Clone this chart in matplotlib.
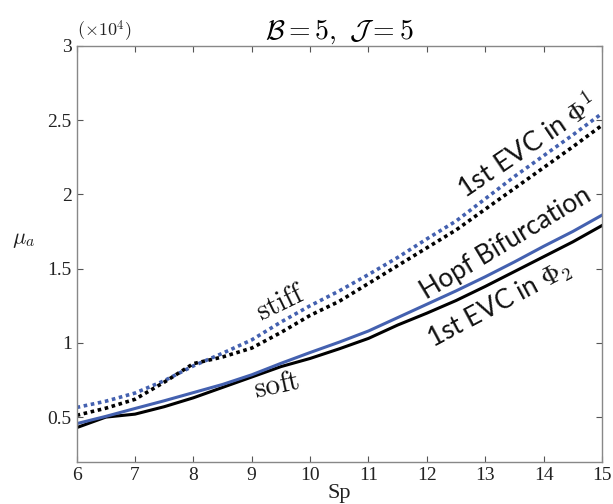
import matplotlib
matplotlib.use("Agg")
import matplotlib.pyplot as plt
import numpy as np

plt.rcParams['mathtext.fontset'] = 'cm'

sp = [6.0, 6.5, 7.0, 7.5, 8.0, 8.5, 9.0, 9.5, 10.0, 10.5, 11.0, 11.5, 12.0, 12.5, 13.0, 13.5, 14.0, 14.5, 15.0]

evc1_stiff_blue = [0.565, 0.607, 0.662, 0.745, 0.845, 0.93, 1.02, 1.14, 1.25, 1.35, 1.46, 1.575, 1.70, 1.82, 1.97, 2.12, 2.26, 2.40, 2.545]
evc1_stiff_black = [0.512, 0.56, 0.62, 0.735, 0.86, 0.905, 0.965, 1.07, 1.185, 1.28, 1.40, 1.52, 1.64, 1.76, 1.90, 2.04, 2.18, 2.32, 2.465]
hopf_blue = [0.456, 0.505, 0.558, 0.61, 0.665, 0.72, 0.785, 0.862, 0.935, 1.005, 1.08, 1.17, 1.26, 1.35, 1.445, 1.545, 1.65, 1.75, 1.86]
evc2_soft_black = [0.429, 0.50, 0.52, 0.57, 0.63, 0.70, 0.77, 0.84, 0.895, 0.96, 1.03, 1.12, 1.20, 1.285, 1.38, 1.48, 1.58, 1.68, 1.79]

xticks = [6, 7, 8, 9, 10, 11, 12, 13, 14, 15]
yticks = [0.5, 1, 1.5, 2, 2.5, 3]
ytick_labels = ["0.5", "1", "1.5", "2", "2.5", "3"]

blue = '#4461b0'

fig = plt.figure(figsize=(6.13, 5.04), dpi=100)
ax = fig.add_axes([0.125, 0.084, 0.857, 0.825])

ax.plot(sp, evc1_stiff_blue, color=blue, lw=2.6, linestyle=(0, (1, 1)), dash_capstyle='butt')
ax.plot(sp, evc1_stiff_black, color='black', lw=2.6, linestyle=(0, (1, 1)), dash_capstyle='butt')
ax.plot(sp, evc2_soft_black, color='black', lw=2.2)
ax.plot(sp, hopf_blue, color=blue, lw=2.2)

ax.set_xlim(6, 15)
ax.set_ylim(0.2, 3)
ax.set_xticks(xticks)
ax.set_yticks(yticks)
ax.set_yticklabels(ytick_labels)
ax.tick_params(direction='in', top=True, right=True, length=4, width=0.8,
               colors='#555555', labelcolor='#222222', labelsize=14)
for lab in ax.get_xticklabels() + ax.get_yticklabels():
    lab.set_fontfamily('Liberation Serif')
for s in ax.spines.values():
    s.set_color('#888888')
    s.set_linewidth(1.0)

ax.set_xlabel('Sp', fontfamily='Liberation Serif', fontsize=16, labelpad=0, color='#222222')
ax.set_ylabel(r'$\mu_a$', fontsize=16, rotation=0, color='#222222')
ax.yaxis.set_label_coords(-0.1, 0.51)
ax.set_title(r'$\mathcal{B}=5,\ \mathcal{J}=5$', fontsize=20, pad=5)
ax.text(0.0, 1.005, r'$(\times10^4)$', transform=ax.transAxes, fontsize=13,
        ha='left', va='bottom', color='#222222')

ax.text(9.5, 1.27, r'$\mathrm{stiff}$', fontsize=21, rotation=26, ha='center', va='center',
        color='#111111')
ax.text(9.43, 0.715, r'$\mathrm{soft}$', fontsize=21, rotation=12, ha='center', va='center',
        color='#111111')
sans = 'Lato'
ax.text(13.72, 2.33, r'1st EVC in $\mathit{\Phi}^1$', fontsize=19.5, rotation=34, ha='center', va='center',
        fontfamily=[sans, 'DejaVu Sans'], color='#111111')
ax.text(13.36, 1.67, 'Hopf Bifurcation', fontsize=19, rotation=31, ha='center', va='center',
        fontfamily=[sans, 'DejaVu Sans'], color='#111111')
ax.text(13.25, 1.26, r'1st EVC in $\mathit{\Phi}_2$', fontsize=19, rotation=28, ha='center', va='center',
        fontfamily=[sans, 'DejaVu Sans'], color='#111111')

fig.savefig('out.png', dpi=100)
